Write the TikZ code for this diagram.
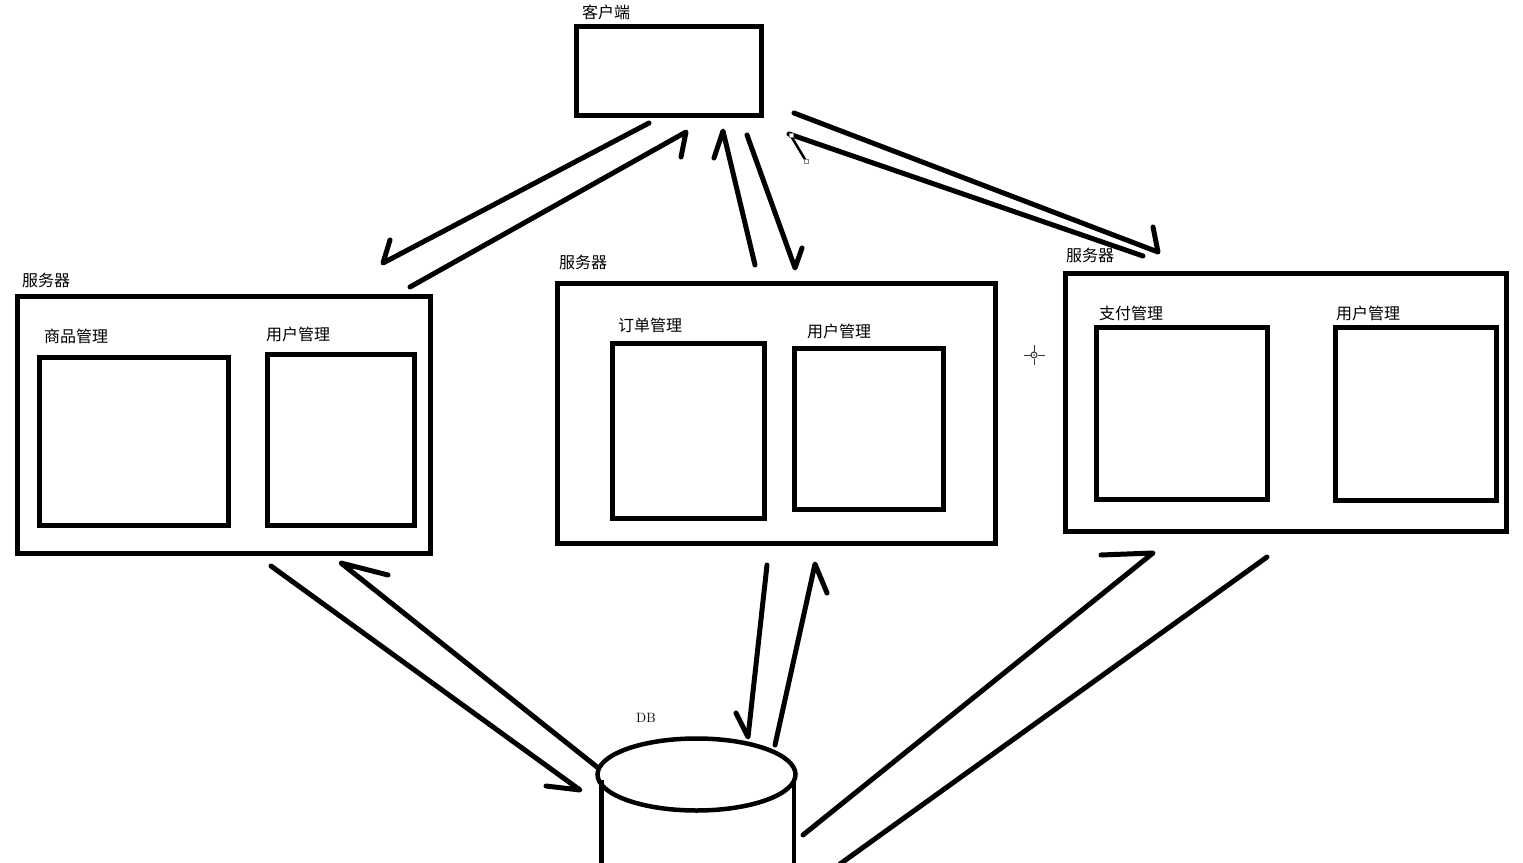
\documentclass[tikz,border=0pt]{standalone}
\usepackage{fontspec}
\newfontfamily\cjk{Noto Sans CJK SC}
\usetikzlibrary{fit}
\tikzset{
  box/.style={draw=black, line width=5pt, inner sep=0pt, fill=none},
  conn/.style={draw=black, line width=5pt, line cap=round, line join=round},
  lbl/.style={anchor=west, inner sep=0pt, font=\cjk\fontsize{16}{18}\selectfont},
}
\begin{document}
\begin{tikzpicture}[x=1pt,y=-1pt]
\useasboundingbox (0,0) rectangle (1523,862);
\fill[white] (0,0) rectangle (1523,862);

% client
\node[box, fit={(576.5,26.5) (761.5,115.5)}] (client) {};
\node[lbl] (clientlbl) at (582,12) {客户端};

% left server
\node[box, fit={(17.5,296.5) (430.5,553.5)}] (srvL) {};
\node[lbl] (srvLlbl) at (22,280) {服务器};
\node[box, fit={(39.5,357.5) (228.5,525.5)}] (goods) {};
\node[lbl] (goodslbl) at (44,336) {商品管理};
\node[box, fit={(267.5,354.5) (414.5,525.5)}] (userL) {};
\node[lbl] (userLlbl) at (266,334) {用户管理};

% middle server
\node[box, fit={(557.5,283.5) (995.5,543.5)}] (srvM) {};
\node[lbl] (srvMlbl) at (559,262) {服务器};
\node[box, fit={(612.5,343.5) (764.5,518.5)}] (order) {};
\node[lbl] (orderlbl) at (618,325) {订单管理};
\node[box, fit={(794.5,348.5) (943.5,509.5)}] (userM) {};
\node[lbl] (userMlbl) at (807,331) {用户管理};

% right server
\node[box, fit={(1065.5,273.5) (1506.5,531.5)}] (srvR) {};
\node[lbl] (srvRlbl) at (1066,255) {服务器};
\node[box, fit={(1096.5,327.5) (1267.5,499.5)}] (pay) {};
\node[lbl] (paylbl) at (1099,313) {支付管理};
\node[box, fit={(1335.5,327.5) (1496.5,500.5)}] (userR) {};
\node[lbl] (userRlbl) at (1336,313) {用户管理};

% DB cylinder
\node[anchor=west, inner sep=0pt, font=\fontsize{13.5}{15}\selectfont] (dblbl) at (636,718) {DB};
\draw[line width=4.5pt] (696.5,774.5) ellipse [x radius=99, y radius=36];
\draw[line width=4.5pt] (601.5,780) -- (601.5,870);
\draw[line width=4.5pt] (794,780) -- (794,870);
\coordinate (db) at (696.5,774.5);

% connector end points
\coordinate (a1s) at (649,123);  \coordinate (a1t) at (383,263);  \coordinate (a1b) at (390,240);
\coordinate (a2s) at (410,287);  \coordinate (a2t) at (686,132);  \coordinate (a2b) at (681,157);
\coordinate (a3s) at (755,265);  \coordinate (a3t) at (723,131);  \coordinate (a3b) at (714,158);
\coordinate (a4s) at (747,135);  \coordinate (a4t) at (795,268);  \coordinate (a4b) at (802,248);
\coordinate (a5s) at (794,113);  \coordinate (a5t) at (1158,252); \coordinate (a5b) at (1153,227);
\coordinate (a6s) at (1143,256); \coordinate (a6t) at (789,134);  \coordinate (a6b) at (806,161);
\coordinate (a7s) at (271,566);  \coordinate (a7t) at (580,790);  \coordinate (a7b) at (546,786);
\coordinate (a8s) at (597,767);  \coordinate (a8t) at (341,563);  \coordinate (a8b) at (388,575);
\coordinate (a9s) at (767,565);  \coordinate (a9t) at (748,737);  \coordinate (a9b) at (736,713);
\coordinate (a10s) at (775,745); \coordinate (a10t) at (815,564); \coordinate (a10b) at (827,593);
\coordinate (a11s) at (803,835); \coordinate (a11t) at (1153,553); \coordinate (a11b) at (1101,555);
\coordinate (a12s) at (1267,557); \coordinate (a12t) at (840,864);

% connectors
\draw[conn] (a1s) -- (a1t) -- (a1b);
\draw[conn] (a2s) -- (a2t) -- (a2b);
\draw[conn] (a3s) -- (a3t) -- (a3b);
\draw[conn] (a4s) -- (a4t) -- (a4b);
\draw[conn] (a5s) -- (a5t) -- (a5b);
\draw[conn] (a6s) -- (a6t);
\draw[draw=black, line width=2.5pt, line cap=round] (a6t) ++(2,2) -- (a6b);
\draw[gray, line width=0.8pt, fill=white] (789.5,133.5) rectangle ++(4,4);
\draw[gray, line width=0.8pt, fill=white] (804,159) rectangle ++(4,4);
\draw[conn] (a7s) -- (a7t) -- (a7b);
\draw[conn] (a8s) -- (a8t) -- (a8b);
\draw[conn] (a9s) -- (a9t) -- (a9b);
\draw[conn] (a10s) -- (a10t) -- (a10b);
\draw[conn] (a11s) -- (a11t) -- (a11b);
\draw[conn] (a12s) -- (a12t);

% cursor mark
\begin{scope}[line width=1pt, black!80]
\draw (1034,355) circle [radius=3];
\fill (1034,355) circle [radius=0.8];
\draw (1024,355) -- (1030.5,355);
\draw (1037.5,355) -- (1045,355);
\draw (1034,345) -- (1034,351.5);
\draw (1034,358.5) -- (1034,365);
\end{scope}
\end{tikzpicture}
\end{document}
